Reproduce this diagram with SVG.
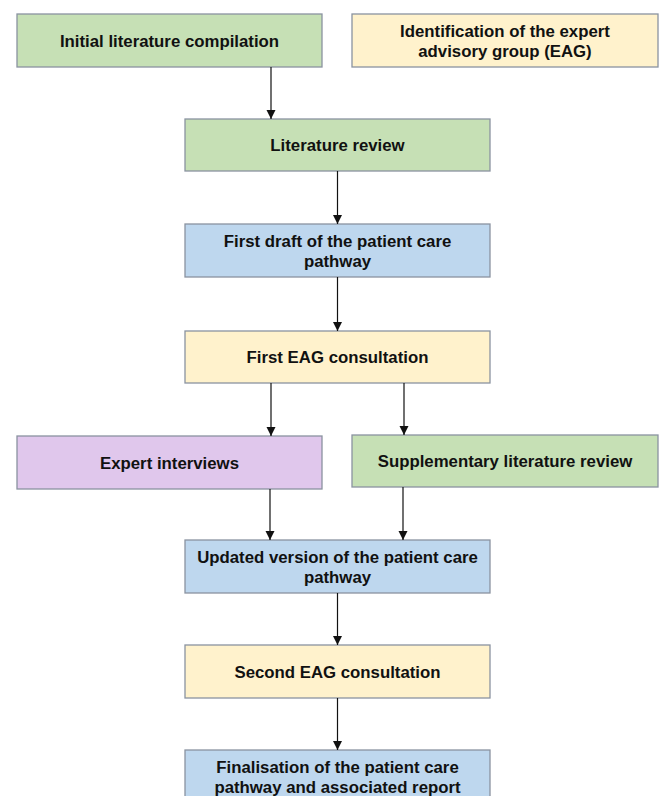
<svg xmlns="http://www.w3.org/2000/svg" width="659" height="796" viewBox="0 0 659 796">
<style>
.b{stroke:#8a93a0;stroke-width:1.3}
.g{fill:#c6e0b5}.y{fill:#fff2cc}.bl{fill:#bed7ee}.p{fill:#e0c7ec}
text{font-family:"Liberation Sans",Arial,sans-serif;font-weight:bold;font-size:16.8px;fill:#111;text-anchor:middle}
.c{stroke:#111;stroke-width:1.2;fill:none;marker-end:url(#a)}
</style>
<defs><marker id="a" markerWidth="10" markerHeight="10" refX="9" refY="5" orient="auto" markerUnits="userSpaceOnUse"><path d="M0,0.5 L9,5 L0,9.5 Z" fill="#111"/></marker></defs>
<rect width="659" height="796" fill="#fff"/>
<g id="n1"><rect class="b g" x="17" y="14" width="305" height="53"/><text x="169.5" y="47">Initial literature compilation</text></g>
<g id="n2"><rect class="b y" x="352" y="14" width="306" height="53"/><text x="505" y="37">Identification of the expert</text><text x="505" y="57">advisory group (EAG)</text></g>
<g id="n3"><rect class="b g" x="185" y="119" width="305" height="52"/><text x="337.5" y="151">Literature review</text></g>
<g id="n4"><rect class="b bl" x="185" y="224" width="305" height="53"/><text x="337.5" y="246.5">First draft of the patient care</text><text x="337.5" y="266.5">pathway</text></g>
<g id="n5"><rect class="b y" x="185" y="331" width="305" height="52"/><text x="337.5" y="363">First EAG consultation</text></g>
<g id="n6"><rect class="b p" x="17" y="436" width="305" height="53"/><text x="169.5" y="469">Expert interviews</text></g>
<g id="n7"><rect class="b g" x="352" y="435" width="306" height="52"/><text x="505" y="467">Supplementary literature review</text></g>
<g id="n8"><rect class="b bl" x="185" y="540" width="305" height="53"/><text x="337.5" y="562.5">Updated version of the patient care</text><text x="337.5" y="582.5">pathway</text></g>
<g id="n9"><rect class="b y" x="185" y="645" width="305" height="53"/><text x="337.5" y="678">Second EAG consultation</text></g>
<g id="n10"><rect class="b bl" x="185" y="750" width="305" height="53"/><text x="337.5" y="772.5">Finalisation of the patient care</text><text x="337.5" y="792.5">pathway and associated report</text></g>
<g id="connectors">
<path class="c" d="M271,67 V119"/>
<path class="c" d="M337.5,171 V224"/>
<path class="c" d="M337.5,277 V331"/>
<path class="c" d="M271,383 V436"/>
<path class="c" d="M404,383 V435"/>
<path class="c" d="M270,489 V540"/>
<path class="c" d="M403,487 V540"/>
<path class="c" d="M337.5,593 V645"/>
<path class="c" d="M337.5,698 V750"/>
</g>
</svg>
